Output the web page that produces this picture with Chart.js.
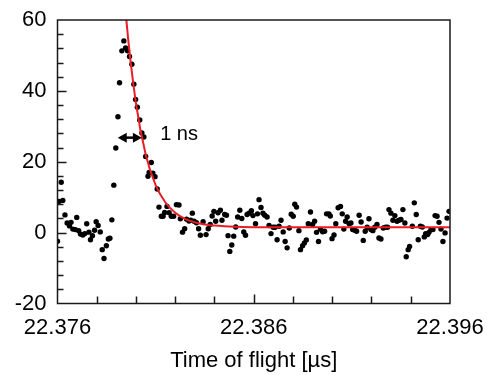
<!DOCTYPE html>
<html><head><meta charset="utf-8">
<script src="https://cdn.jsdelivr.net/npm/chart.js@4/dist/chart.umd.min.js"></script>
<style>html,body{margin:0;padding:0;background:#fff;}</style>
</head><body>
<canvas id="c" width="487" height="375"></canvas>
<script>
const timeUs = [
22.37600,22.37607,22.37619,22.37627,22.37638,22.37649,22.37661,22.37669,22.37678,22.37691,
22.37698,22.37708,22.37717,22.37729,22.37739,22.37749,22.37760,22.37768,22.37778,22.37789,
22.37797,22.37807,22.37818,22.37828,22.37837,22.37849,22.37859,22.37867,22.37877,22.37887,
22.37897,22.37908,22.37916,22.37928,22.37938,22.37947,22.37957,22.37967,22.37979,22.37989,
22.37998,22.38007,22.38019,22.38030,22.38040,22.38049,22.38061,22.38067,22.38078,22.38086,
22.38097,22.38108,22.38117,22.38129,22.38138,22.38146,22.38158,22.38169,22.38180,22.38192,
22.38206,22.38219,22.38226,22.38237,22.38248,22.38258,22.38270,22.38279,22.38287,22.38296,
22.38308,22.38319,22.38328,22.38342,22.38357,22.38368,22.38378,22.38388,22.38397,22.38406,
22.38418,22.38430,22.38438,22.38452,22.38461,22.38469,22.38478,22.38488,22.38498,22.38508,
22.38518,22.38529,22.38539,22.38549,22.38558,22.38566,22.38576,22.38588,22.38596,22.38609,
22.38619,22.38627,22.38637,22.38647,22.38656,22.38668,22.38678,22.38688,22.38699,22.38709,
22.38719,22.38729,22.38739,22.38750,22.38760,22.38770,22.38781,22.38791,22.38801,22.38809,
22.38818,22.38830,22.38838,22.38849,22.38858,22.38868,22.38878,22.38889,22.38900,22.38910,
22.38920,22.38930,22.38940,22.38951,22.38961,22.38971,22.38983,22.38990,22.38999,22.39009,
22.39018,22.39030,22.39042,22.39051,22.39059,22.39068,22.39076,22.39086,22.39095,22.39104,
22.39115,22.39124,22.39137,22.39147,22.39158,22.39168,22.39178,22.39187,22.39197,22.39207,
22.39217,22.39228,22.39238,22.39248,22.39260,22.39272,22.39282,22.39289,22.39299,22.39309,
22.39319,22.39330,22.39340,22.39350,22.39360,22.39370,22.39377,22.39387,22.39394,22.39408,
22.39418,22.39428,22.39438,22.39449,22.39459,22.39469,22.39476,22.39486,22.39493,22.39503,
22.39513,22.39524,22.39534,22.39544,22.39554,22.39564,22.39575,22.39585,22.39595
];
const counts = [
-2.4,8.8,14.2,9.1,5.0,2.7,1.9,2.9,1.0,0.85,
4.3,0.56,-0.42,-0.70,-0.28,2.5,0.14,-2.0,-0.85,0.65,
3.1,2.0,0.2,-4.8,-7.3,-3.7,-1.8,-1.6,3.6,13.4,
23.9,32.7,42.3,51.3,54.1,52.1,51.3,49.7,47.5,41.9,
37.6,35.4,31.8,28.1,27.0,21.5,15.9,17.0,19.8,16.8,
15.8,12.3,7.2,4.6,4.6,5.7,7.4,5.6,4.6,4.6,
7.9,7.8,3.9,0.14,1.1,3.8,3.3,3.5,5.5,3.2,
2.8,1.1,-0.76,3.1,-0.56,1.1,2.3,4.7,6.0,3.2,
5.6,6.3,3.5,5.1,4.9,-0.85,-5.3,-3.5,-1.0,1.6,
4.4,6.3,4.0,0.2,-0.76,5.1,5.5,6.2,4.8,2.5,
5.3,9.3,7.1,5.5,4.9,4.4,2.0,-0.28,1.5,1.5,
-2.0,1.8,3.5,0.2,-2.5,-4.3,1.3,5.2,4.6,8.0,
7.2,0.56,-4.8,-3.7,-2.9,-2.1,2.5,5.8,2.3,3.2,
0.08,-2.5,0.93,0.23,0.37,5.3,5.3,4.7,-1.7,-0.65,
2.5,7.0,7.4,5.3,1.0,3.2,4.4,2.5,2.7,0.85,
0.65,0.37,4.9,3.0,-2.2,0.37,1.5,3.9,0.85,0.56,
1.5,2.3,-1.5,-1.8,1.3,1.5,1.5,6.5,5.5,3.5,
4.8,3.2,3.5,3.7,6.5,2.7,-6.8,-4.8,-3.9,1.8,
8.4,5.1,-2.0,1.8,1.6,-1.2,-0.28,-0.56,0.08,0.85,
0.85,4.8,4.6,2.9,1.0,-2.5,-0.08,4.1,6.0
];
const fitTimeUs = [22.3793,22.3795,22.3800,22.3805,22.3810,22.3815,22.3820,22.3825,22.3830,22.3835,22.3840,22.3845,22.3850,22.3860,22.3900,22.3960];
const fitCounts = [75.6,60.5,36.4,21.9,13.4,8.5,5.6,3.9,2.9,2.3,2.0,1.8,1.66,1.55,1.5,1.5];
const xTickValues = [22.376,22.386,22.396];
const xMinorTickValues = [22.378,22.380,22.382,22.384,22.386,22.388,22.390,22.392,22.394];
const yTickValues = [-20,0,20,40,60];
const yMinorTickValues = [-16,-12,-8,-4,0,4,8,12,16,20,24,28,32,36,40,44,48,52,56];
const xAxisTitle = 'Time of flight [µs]';
const annotationText = '1 ns';

const FONT = 'Liberation Sans, Arial, sans-serif';

const framePlugin = {
  id: 'frame',
  afterDatasetsDraw(chart) {
    const {ctx, chartArea: a, scales: {x, y}} = chart;
    ctx.save();
    ctx.strokeStyle = '#1a1a1a';
    ctx.lineWidth = 1.5;
    ctx.beginPath();
    xMinorTickValues.forEach(v => {
      const px = Math.round(x.getPixelForValue(v)) + 0.5;
      const len = xTickValues.includes(v) ? 9 : 7;
      ctx.moveTo(px, a.bottom); ctx.lineTo(px, a.bottom - len);
    });
    yMinorTickValues.forEach(v => {
      const py = Math.round(y.getPixelForValue(v)) + 0.5;
      const len = yTickValues.includes(v) ? 9 : 6;
      ctx.moveTo(a.left, py); ctx.lineTo(a.left + len, py);
    });
    ctx.stroke();
    ctx.strokeRect(a.left, a.top, a.right - a.left, a.bottom - a.top);

    // double arrow (1 ns marker)
    const x1 = x.getPixelForValue(22.37907), x2 = x.getPixelForValue(22.38030);
    const ya = y.getPixelForValue(26.8);
    ctx.fillStyle = '#000'; ctx.strokeStyle = '#000'; ctx.lineWidth = 2.5;
    ctx.beginPath(); ctx.moveTo(x1 + 6, ya); ctx.lineTo(x2 - 6, ya); ctx.stroke();
    ctx.beginPath(); ctx.moveTo(x1, ya); ctx.lineTo(x1 + 9, ya - 5); ctx.lineTo(x1 + 9, ya + 5); ctx.closePath(); ctx.fill();
    ctx.beginPath(); ctx.moveTo(x2, ya); ctx.lineTo(x2 - 9, ya - 5); ctx.lineTo(x2 - 9, ya + 5); ctx.closePath(); ctx.fill();

    ctx.font = '20px ' + FONT;
    ctx.textAlign = 'left'; ctx.textBaseline = 'middle';
    ctx.fillText(annotationText, x.getPixelForValue(22.38123), y.getPixelForValue(27.6));
    ctx.restore();
  }
};

new Chart(document.getElementById('c'), {
  type: 'scatter',
  data: {
    datasets: [
      {
        type: 'line',
        data: fitTimeUs.map((t, i) => ({x: t, y: fitCounts[i]})),
        borderColor: 'rgb(232,30,36)',
        borderWidth: 2,
        pointRadius: 0,
        fill: false,
        cubicInterpolationMode: 'monotone',
        order: 0
      },
      {
        data: timeUs.map((t, i) => ({x: t, y: counts[i]})),
        backgroundColor: '#000',
        borderWidth: 0,
        pointRadius: 2.7,
        order: 1
      }
    ]
  },
  options: {
    responsive: false,
    animation: false,
    devicePixelRatio: 1,
    layout: {padding: {top: 20, right: 37, bottom: 0, left: 0}},
    plugins: {legend: {display: false}, tooltip: {enabled: false}},
    scales: {
      x: {
        type: 'linear', min: 22.376, max: 22.396,
        afterBuildTicks: s => { s.ticks = xTickValues.map(v => ({value: v})); },
        afterFit: s => { s.height = 71.5; s.paddingLeft = 0; s.paddingRight = 0; },
        grid: {display: false, drawTicks: false},
        border: {display: false},
        ticks: {callback: v => Number(v).toFixed(3), font: {family: FONT, size: 22}, color: '#000', padding: 11, maxRotation: 0, autoSkip: false},
        title: {display: true, text: xAxisTitle, font: {family: FONT, size: 22}, color: '#000', padding: {top: 0, bottom: 1}}
      },
      y: {
        type: 'linear', min: -20, max: 60,
        afterBuildTicks: s => { s.ticks = yTickValues.map(v => ({value: v})); },
        afterFit: s => { s.width = 57.5; s.paddingTop = 0; s.paddingBottom = 0; },
        grid: {display: false, drawTicks: false},
        border: {display: false},
        ticks: {font: {family: FONT, size: 22}, color: '#000', padding: 11}
      }
    }
  },
  plugins: [framePlugin]
});
</script>
</body></html>
